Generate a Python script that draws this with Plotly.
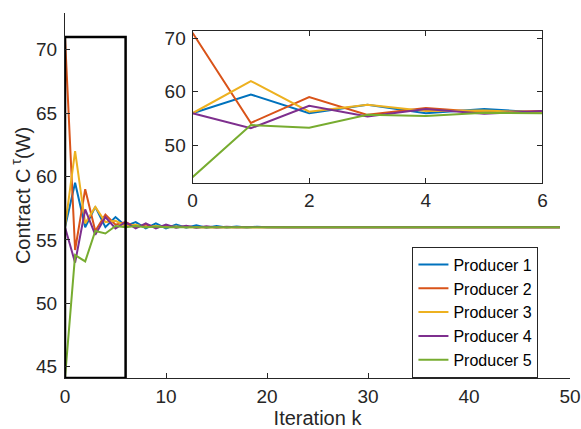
import plotly.graph_objects as go

k = list(range(50))
tail = [56.0] * 30
p1 = [56.0, 59.5, 56.0, 57.6, 56.0, 56.8, 56.1, 56.4, 55.9, 56.3, 55.9, 56.2, 55.95, 56.15, 55.95, 56.1, 55.97, 56.05, 55.98, 56.03] + tail
p2 = [71.0, 54.2, 59.0, 55.7, 57.0, 56.2, 56.4, 56.0, 56.2, 56.0, 56.1, 56.0, 56.05, 56.0, 56.02, 56.0, 56.0, 56.0, 56.0, 56.0] + tail
p3 = [56.0, 62.0, 56.3, 57.6, 56.4, 56.5, 56.1, 56.2, 56.0, 56.1, 56.0, 56.05, 56.0, 56.02, 56.0, 56.0, 56.0, 56.0, 56.0, 56.0] + tail
p4 = [56.0, 53.2, 57.4, 55.4, 56.8, 55.9, 56.4, 55.9, 56.3, 55.9, 56.2, 55.95, 56.12, 55.96, 56.08, 55.98, 56.04, 55.99, 56.02, 56.0] + tail
p5 = [44.1, 53.8, 53.3, 55.7, 55.5, 56.1, 56.0, 56.1, 56.0, 56.05, 56.0, 56.0, 56.0, 56.0, 56.0, 56.0, 56.0, 56.0, 56.0, 56.0] + tail
names = ["Producer 1", "Producer 2", "Producer 3", "Producer 4", "Producer 5"]
colors = ["#0072BD", "#D95319", "#EDB120", "#7E2F8E", "#77AC30"]
series = [p1, p2, p3, p4, p5]

zoom_k = [0, 6]
zoom_c = [44.1, 71.0]

txt = "#262626"
font = "Liberation Sans, Arial, sans-serif"

fig = go.Figure()
for nm, col, s in zip(names, colors, series):
    fig.add_trace(go.Scatter(x=k, y=s, mode="lines", name=nm,
                             line=dict(color=col, width=2), xaxis="x", yaxis="y"))
# zoom rectangle
fig.add_trace(go.Scatter(x=[zoom_k[0], zoom_k[1], zoom_k[1], zoom_k[0], zoom_k[0]],
                         y=[zoom_c[0], zoom_c[0], zoom_c[1], zoom_c[1], zoom_c[0]],
                         mode="lines", line=dict(color="black", width=2.5),
                         showlegend=False, hoverinfo="skip"))
for nm, col, s in zip(names, colors, series):
    fig.add_trace(go.Scatter(x=k[:7], y=s[:7], mode="lines", name=nm, showlegend=False,
                             line=dict(color=col, width=2), xaxis="x2", yaxis="y2"))

axcommon = dict(showgrid=False, zeroline=False, ticks="inside", ticklen=5,
                linecolor=txt, linewidth=1, tickcolor=txt, automargin=False,
                tickfont=dict(size=19, color=txt, family=font))

fig.update_layout(
    width=581, height=429,
    margin=dict(l=65, r=11, t=13, b=51),
    paper_bgcolor="white", plot_bgcolor="white",
    font=dict(family=font, color=txt),
    xaxis=dict(range=[0, 50], tickvals=[0, 10, 20, 30, 40, 50], showline=True,
               ticklabelstandoff=1,
               title=dict(text="Iteration k", font=dict(size=20, color=txt), standoff=8),
               **axcommon),
    yaxis=dict(range=[44.1, 72.9], tickvals=[45, 50, 55, 60, 65, 70], showline=True,
               ticklabelstandoff=3,
               title=dict(text="Contract C<sup> τ</sup>(W)", font=dict(size=20, color=txt), standoff=0),
               **axcommon),
    xaxis2=dict(domain=[0.2525, 0.9455], anchor="y2", range=[0, 6], tickvals=[0, 2, 4, 6],
                showline=True, mirror="ticks", **axcommon),
    yaxis2=dict(domain=[0.534, 0.952], anchor="x2", range=[43.0, 71.4], tickvals=[50, 60, 70],
                showline=True, mirror="ticks", ticklabelstandoff=2, **axcommon),
    legend=dict(x=0.688, y=0.36, xanchor="left", yanchor="top",
                bordercolor=txt, borderwidth=1, bgcolor="white",
                font=dict(size=16, color="black", family=font),
                tracegroupgap=0, itemwidth=30),
)

fig.write_html("out.html", config={"displayModeBar": False},
               post_script="document.body.style.margin='0px';document.body.style.padding='0px';")
